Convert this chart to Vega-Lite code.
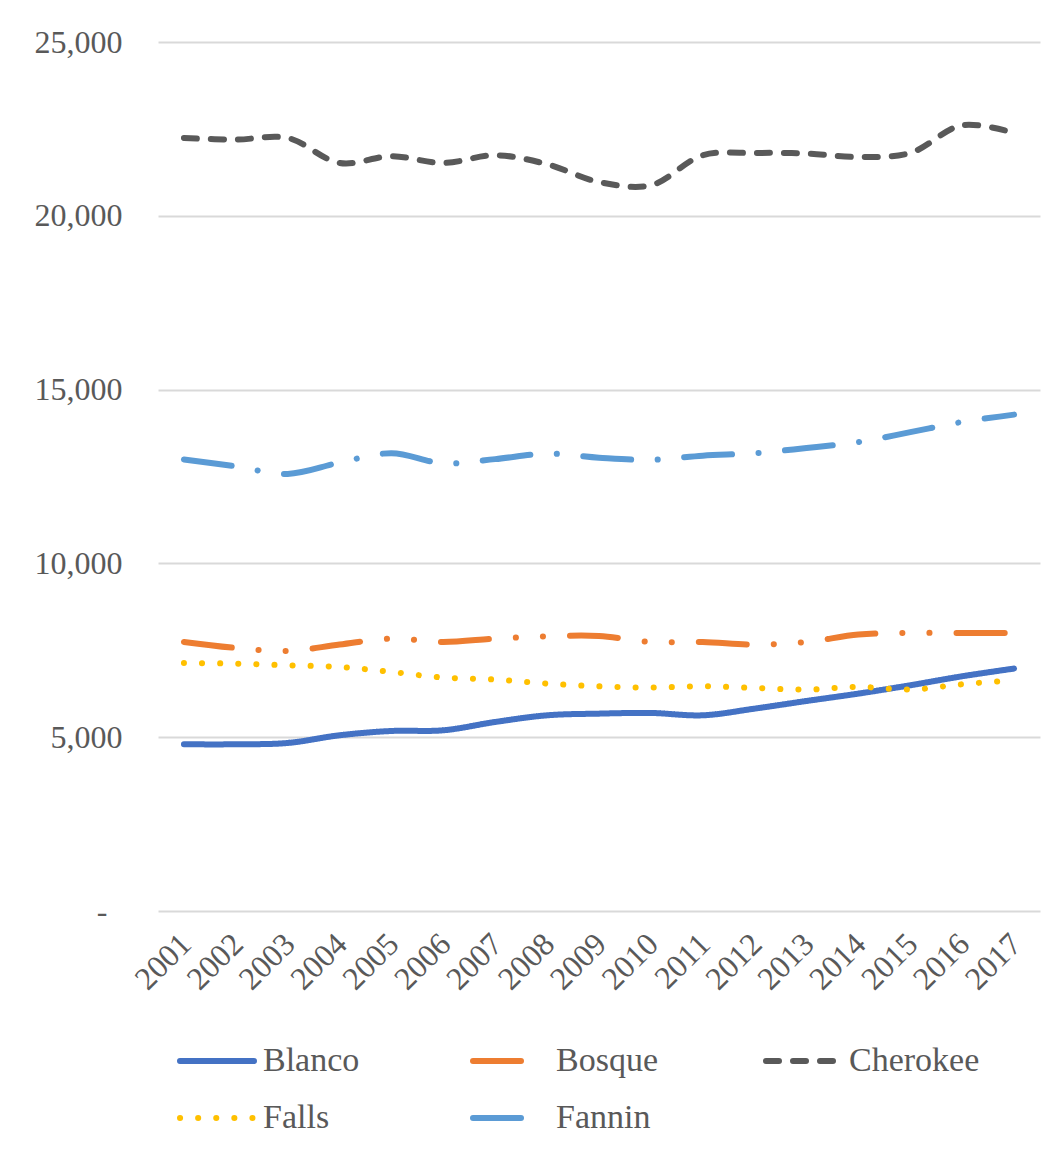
{
  "$schema": "https://vega.github.io/schema/vega-lite/v6.json",
  "width": 882,
  "height": 869,
  "autosize": "none",
  "padding": {"left": 158, "top": 42, "right": 22, "bottom": 264},
  "background": "white",
  "config": {"view": {"stroke": null}, "font": "Liberation Serif"},
  "data": {
    "values": [
      {"year": "2001", "county": "Blanco", "value": 4796},
      {"year": "2002", "county": "Blanco", "value": 4796},
      {"year": "2003", "county": "Blanco", "value": 4834},
      {"year": "2004", "county": "Blanco", "value": 5055},
      {"year": "2005", "county": "Blanco", "value": 5179},
      {"year": "2006", "county": "Blanco", "value": 5199},
      {"year": "2007", "county": "Blanco", "value": 5438},
      {"year": "2008", "county": "Blanco", "value": 5630},
      {"year": "2009", "county": "Blanco", "value": 5678},
      {"year": "2010", "county": "Blanco", "value": 5697},
      {"year": "2011", "county": "Blanco", "value": 5630},
      {"year": "2012", "county": "Blanco", "value": 5822},
      {"year": "2013", "county": "Blanco", "value": 6042},
      {"year": "2014", "county": "Blanco", "value": 6254},
      {"year": "2015", "county": "Blanco", "value": 6494},
      {"year": "2016", "county": "Blanco", "value": 6753},
      {"year": "2017", "county": "Blanco", "value": 6974},
      {"year": "2001", "county": "Bosque", "value": 7740},
      {"year": "2002", "county": "Bosque", "value": 7567},
      {"year": "2003", "county": "Bosque", "value": 7480},
      {"year": "2004", "county": "Bosque", "value": 7664},
      {"year": "2005", "county": "Bosque", "value": 7837},
      {"year": "2006", "county": "Bosque", "value": 7740},
      {"year": "2007", "county": "Bosque", "value": 7837},
      {"year": "2008", "county": "Bosque", "value": 7903},
      {"year": "2009", "county": "Bosque", "value": 7912},
      {"year": "2010", "county": "Bosque", "value": 7740},
      {"year": "2011", "county": "Bosque", "value": 7740},
      {"year": "2012", "county": "Bosque", "value": 7664},
      {"year": "2013", "county": "Bosque", "value": 7740},
      {"year": "2014", "county": "Bosque", "value": 7952},
      {"year": "2015", "county": "Bosque", "value": 7998},
      {"year": "2016", "county": "Bosque", "value": 7998},
      {"year": "2017", "county": "Bosque", "value": 7998},
      {"year": "2001", "county": "Cherokee", "value": 22239},
      {"year": "2002", "county": "Cherokee", "value": 22193},
      {"year": "2003", "county": "Cherokee", "value": 22239},
      {"year": "2004", "county": "Cherokee", "value": 21520},
      {"year": "2005", "county": "Cherokee", "value": 21713},
      {"year": "2006", "county": "Cherokee", "value": 21520},
      {"year": "2007", "county": "Cherokee", "value": 21741},
      {"year": "2008", "county": "Cherokee", "value": 21483},
      {"year": "2009", "county": "Cherokee", "value": 20973},
      {"year": "2010", "county": "Cherokee", "value": 20878},
      {"year": "2011", "county": "Cherokee", "value": 21741},
      {"year": "2012", "county": "Cherokee", "value": 21808},
      {"year": "2013", "county": "Cherokee", "value": 21790},
      {"year": "2014", "county": "Cherokee", "value": 21693},
      {"year": "2015", "county": "Cherokee", "value": 21808},
      {"year": "2016", "county": "Cherokee", "value": 22605},
      {"year": "2017", "county": "Cherokee", "value": 22383},
      {"year": "2001", "county": "Falls", "value": 7135},
      {"year": "2002", "county": "Falls", "value": 7117},
      {"year": "2003", "county": "Falls", "value": 7069},
      {"year": "2004", "county": "Falls", "value": 7021},
      {"year": "2005", "county": "Falls", "value": 6877},
      {"year": "2006", "county": "Falls", "value": 6715},
      {"year": "2007", "county": "Falls", "value": 6658},
      {"year": "2008", "county": "Falls", "value": 6543},
      {"year": "2009", "county": "Falls", "value": 6465},
      {"year": "2010", "county": "Falls", "value": 6427},
      {"year": "2011", "county": "Falls", "value": 6465},
      {"year": "2012", "county": "Falls", "value": 6417},
      {"year": "2013", "county": "Falls", "value": 6370},
      {"year": "2014", "county": "Falls", "value": 6446},
      {"year": "2015", "county": "Falls", "value": 6370},
      {"year": "2016", "county": "Falls", "value": 6523},
      {"year": "2017", "county": "Falls", "value": 6638},
      {"year": "2001", "county": "Fannin", "value": 12990},
      {"year": "2002", "county": "Fannin", "value": 12790},
      {"year": "2003", "county": "Fannin", "value": 12575},
      {"year": "2004", "county": "Fannin", "value": 12900},
      {"year": "2005", "county": "Fannin", "value": 13170},
      {"year": "2006", "county": "Fannin", "value": 12880},
      {"year": "2007", "county": "Fannin", "value": 13000},
      {"year": "2008", "county": "Fannin", "value": 13160},
      {"year": "2009", "county": "Fannin", "value": 13040},
      {"year": "2010", "county": "Fannin", "value": 12980},
      {"year": "2011", "county": "Fannin", "value": 13100},
      {"year": "2012", "county": "Fannin", "value": 13170},
      {"year": "2013", "county": "Fannin", "value": 13320},
      {"year": "2014", "county": "Fannin", "value": 13490},
      {"year": "2015", "county": "Fannin", "value": 13775},
      {"year": "2016", "county": "Fannin", "value": 14070},
      {"year": "2017", "county": "Fannin", "value": 14280}
    ]
  },
  "mark": {"type": "line", "strokeWidth": 6, "interpolate": "catmull-rom", "strokeCap": "round", "strokeJoin": "round"},
  "encoding": {
    "x": {
      "field": "year",
      "type": "ordinal",
      "axis": {
        "title": null,
        "labelAngle": -45,
        "labelFont": "Liberation Serif",
        "labelFontSize": 32,
        "labelColor": "#595959",
        "ticks": false,
        "domain": false,
        "grid": false,
        "labelPadding": 17,
        "labelOffset": -9
      }
    },
    "y": {
      "field": "value",
      "type": "quantitative",
      "scale": {"domain": [0, 25000], "nice": false},
      "axis": {
        "title": null,
        "values": [0, 5000, 10000, 15000, 20000, 25000],
        "labelExpr": "datum.value == 0 ? '-' : format(datum.value, ',')",
        "labelFont": "Liberation Serif",
        "labelFontSize": 32,
        "labelColor": "#595959",
        "ticks": false,
        "domain": false,
        "gridColor": "#d9d9d9",
        "gridWidth": 2,
        "labelPadding": {"condition": {"test": "datum.value == 0", "value": 51}, "value": 36}
      }
    },
    "color": {
      "field": "county",
      "type": "nominal",
      "scale": {
        "domain": ["Blanco", "Bosque", "Cherokee", "Falls", "Fannin"],
        "range": ["#4472C4", "#ED7D31", "#595959", "#FFC000", "#5B9BD5"]
      },
      "legend": {
        "title": null,
        "orient": "none",
        "direction": "horizontal",
        "legendX": 19,
        "legendY": 979,
        "columns": 3,
        "symbolType": "stroke",
        "symbolSize": 5476,
        "symbolStrokeWidth": 6,
        "labelFont": "Liberation Serif",
        "labelFontSize": 34,
        "labelColor": "#595959",
        "labelOffset": 6,
        "columnPadding": 67,
        "rowPadding": -29,
        "gridAlign": "all",
        "labelLimit": 300,
        "encode": {"symbols": {"update": {"strokeCap": {"value": "round"}}}}
      }
    },
    "strokeDash": {
      "field": "county",
      "type": "nominal",
      "scale": {
        "domain": ["Blanco", "Bosque", "Cherokee", "Falls", "Fannin"],
        "range": [[1, 0], [48, 27, 0.1, 27, 0.1, 27], [13, 14], [0.1, 18], [48, 26.5, 0.1, 26.5]]
      },
      "legend": {
        "title": null,
        "orient": "none",
        "direction": "horizontal",
        "legendX": 19,
        "legendY": 979,
        "columns": 3,
        "symbolType": "stroke",
        "symbolSize": 5476,
        "symbolStrokeWidth": 6,
        "labelFont": "Liberation Serif",
        "labelFontSize": 34,
        "labelColor": "#595959",
        "labelOffset": 6,
        "columnPadding": 67,
        "rowPadding": -29,
        "gridAlign": "all",
        "labelLimit": 300,
        "encode": {"symbols": {"update": {"strokeCap": {"value": "round"}}}}
      }
    }
  }
}
